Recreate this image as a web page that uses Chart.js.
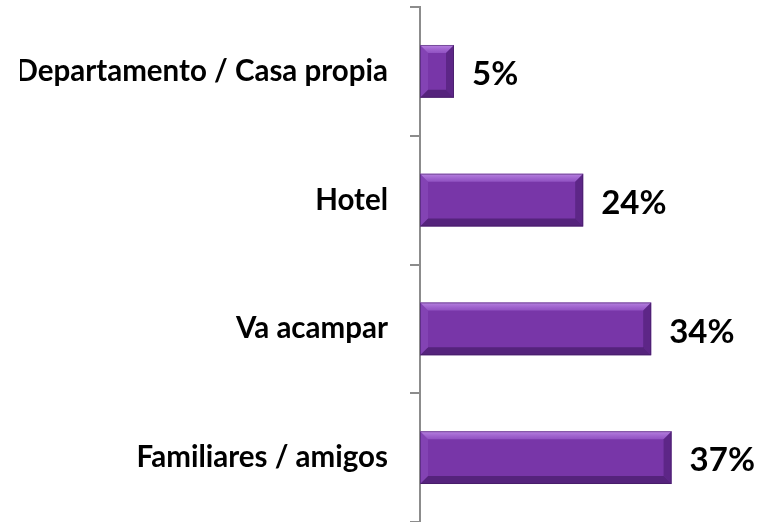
<!DOCTYPE html>
<html>
<head>
<meta charset="utf-8">
<script src="https://cdn.jsdelivr.net/npm/chart.js@4/dist/chart.umd.min.js"></script>
<style>
  html, body { margin: 0; padding: 0; background: #fff; }
  #wrap { width: 760px; height: 522px; }
</style>
</head>
<body>
<div id="wrap">
  <canvas id="alojamiento" width="760" height="522"></canvas>
</div>
<script type="text/javascript">
  // datos
  var categorias = ["Departamento / Casa propia", "Hotel", "Va acampar", "Familiares / amigos"];
  var porcentajes = [5, 24, 34, 37];
  var etiquetas = ["5%", "24%", "34%", "37%"];

  // bisel tipo Excel sobre cada barra
  var bisel = {
    id: 'bisel',
    afterDatasetsDraw: function(chart) {
      var c = chart.ctx;
      chart.getDatasetMeta(0).data.forEach(function(bar) {
        var x0 = bar.base, x1 = bar.x;
        var y0 = bar.y - bar.height / 2, y1 = bar.y + bar.height / 2;
        var b = Math.min(8, (x1 - x0) / 3);
        c.save();
        // arriba
        var g = c.createLinearGradient(0, y0, 0, y0 + b);
        g.addColorStop(0, 'rgba(200,150,240,0.8)');
        g.addColorStop(1, 'rgba(170,110,220,0.5)');
        c.fillStyle = g;
        c.beginPath();
        c.moveTo(x0, y0); c.lineTo(x1, y0); c.lineTo(x1 - b, y0 + b); c.lineTo(x0 + b, y0 + b);
        c.closePath(); c.fill();
        // abajo
        c.fillStyle = 'rgba(50,15,80,0.5)';
        c.beginPath();
        c.moveTo(x0, y1); c.lineTo(x1, y1); c.lineTo(x1 - b, y1 - b); c.lineTo(x0 + b, y1 - b);
        c.closePath(); c.fill();
        // derecha
        c.fillStyle = 'rgba(60,20,95,0.45)';
        c.beginPath();
        c.moveTo(x1, y0); c.lineTo(x1, y1); c.lineTo(x1 - b, y1 - b); c.lineTo(x1 - b, y0 + b);
        c.closePath(); c.fill();
        // izquierda
        c.fillStyle = 'rgba(160,100,210,0.3)';
        c.beginPath();
        c.moveTo(x0, y0); c.lineTo(x0, y1); c.lineTo(x0 + b, y1 - b); c.lineTo(x0 + b, y0 + b);
        c.closePath(); c.fill();
        c.strokeStyle = 'rgba(60,25,90,0.5)';
        c.lineWidth = 1;
        c.strokeRect(x0 + 0.5, y0 + 0.5, x1 - x0 - 1, y1 - y0 - 1);
        c.restore();
      });
    }
  };

  // porcentajes al final de la barra
  var valores = {
    id: 'valores',
    afterDatasetsDraw: function(chart) {
      var c = chart.ctx;
      c.save();
      c.font = 'bold 33px Lato';
      c.fillStyle = '#000';
      c.textAlign = 'left';
      c.textBaseline = 'middle';
      chart.getDatasetMeta(0).data.forEach(function(bar, i) {
        c.fillText(etiquetas[i], bar.x + 18, bar.y + 3);
      });
      c.restore();
    }
  };

  var chart = document.getElementById("alojamiento");
  var myChart = new Chart(chart, {
      type: 'bar',
      data: {
          labels: categorias,
          datasets: [{
              data: porcentajes,
              backgroundColor: "#7836a8",
              borderWidth: 0,
              barPercentage: 0.41,
              categoryPercentage: 1
          }]
      },
      options: {
          indexAxis: 'y',
          responsive: false,
          animation: false,
          layout: { padding: { top: 7, bottom: 0, left: 20, right: 0 } },
          plugins: {
              legend: { display: false },
              tooltip: { enabled: false }
          },
          scales: {
              x: {
                  display: false,
                  min: 0,
                  max: 50
              },
              y: {
                  afterFit: function(scale) {
                      scale.paddingTop = 0;
                      scale.paddingBottom = 0;
                      scale.width = 400;
                  },
                  grid: {
                      drawOnChartArea: false,
                      offset: true,
                      tickLength: 10,
                      color: '#8c8c8c',
                      lineWidth: 2
                  },
                  border: { color: '#8c8c8c', width: 2 },
                  ticks: {
                      color: '#000',
                      padding: 22,
                      font: { family: 'Lato', weight: 'bold', size: 29.5 }
                  }
              }
          }
      },
      plugins: [bisel, valores]
  });
</script>
</body>
</html>
